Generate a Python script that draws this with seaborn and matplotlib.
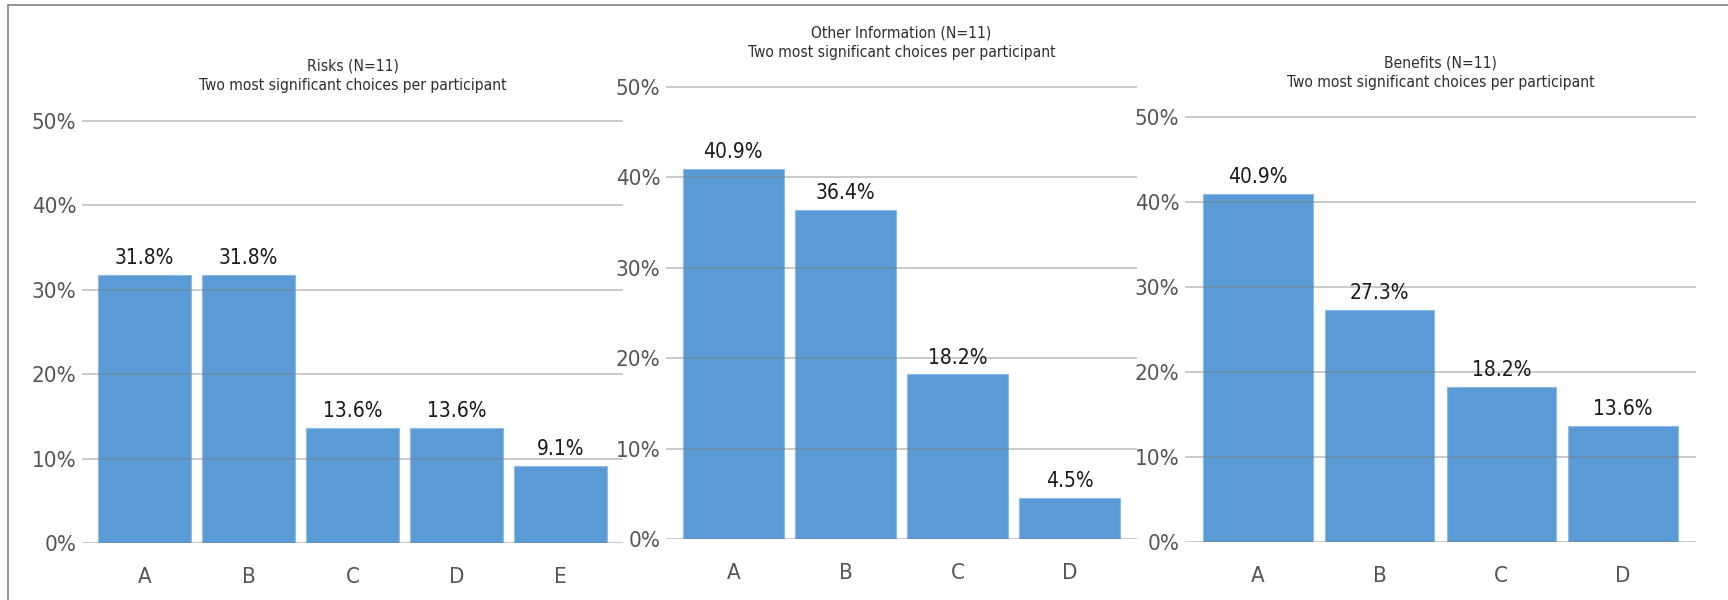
import matplotlib
matplotlib.use("Agg")
import matplotlib.pyplot as plt
from matplotlib import font_manager
from matplotlib.patches import Rectangle
from matplotlib.ticker import FuncFormatter, MultipleLocator
import seaborn as sns
import pandas as pd

# Survey results: share of the two most significant choices per participant
risk_labels = ["A", "B", "C", "D", "E"]
risk_values = [31.8, 31.8, 13.6, 13.6, 9.1]

other_labels = ["A", "B", "C", "D"]
other_values = [40.9, 36.4, 18.2, 4.5]

benefit_labels = ["A", "B", "C", "D"]
benefit_values = [40.9, 27.3, 18.2, 13.6]

panel_titles = [
    "Risks (N=11)\nTwo most significant choices per participant",
    "Other Information (N=11)\nTwo most significant choices per participant",
    "Benefits (N=11)\nTwo most significant choices per participant",
]

sns.set_theme(style="white")

# prefer a narrow sans face when one is installed
narrow = None
for f in font_manager.fontManager.ttflist:
    st = str(f.stretch).lower()
    if ("narrow" in f.name.lower() or "condensed" in f.name.lower()
            or st in ("condensed", "semi-condensed", "extra-condensed")
            or (isinstance(f.stretch, int) and f.stretch < 500)):
        if f.style == "normal":
            narrow = f
            break

if narrow is not None:
    plt.rcParams["font.family"] = [narrow.name, "DejaVu Sans"]
    plt.rcParams["font.stretch"] = narrow.stretch
    scale = 1.0
else:
    plt.rcParams["font.family"] = ["Liberation Sans", "DejaVu Sans"]
    scale = 0.86

W, H = 1728, 600
fig = plt.figure(figsize=(W / 100, H / 100), dpi=100)
fig.patch.set_facecolor("white")

BAR = "#5b9bd5"
EDGE = "#8cbbe6"

# axes boxes in pixels: left, right, y of 0%, y of 50%, title centre
layout = [
    (82, 623, 543, 121, 76),
    (666, 1137, 539, 87, 43),
    (1185, 1696, 542, 117, 73),
]
data = [
    (risk_labels, risk_values),
    (other_labels, other_values),
    (benefit_labels, benefit_values),
]

top = 51.0
for (x0, x1, y0, y50, ty), (labels, values), title in zip(layout, data, panel_titles):
    per_unit = (y0 - y50) / 50.0
    ytop = y0 - per_unit * top
    ax = fig.add_axes([x0 / W, (H - y0) / H, (x1 - x0) / W, (y0 - ytop) / H])
    df = pd.DataFrame({"choice": labels, "share": values})
    sns.barplot(data=df, x="choice", y="share", color=BAR, width=0.9,
                edgecolor=EDGE, linewidth=0.8, saturation=1, ax=ax, zorder=2)
    for p in ax.patches:
        p.set_facecolor(BAR)
    ax.set_ylim(0, top)
    ax.set_xlim(-0.6, len(labels) - 0.4)
    ax.yaxis.set_major_locator(MultipleLocator(10))
    ax.yaxis.set_major_formatter(FuncFormatter(lambda v, _: f"{v:.0f}%"))
    ax.grid(axis="y", color="#7a7a7a", alpha=0.5, linewidth=1.1, zorder=3)
    ax.set_axisbelow(False)
    for s in ax.spines.values():
        s.set_visible(False)
    ax.set_xlabel("")
    ax.set_ylabel("")
    ax.tick_params(axis="y", length=0, pad=4, labelsize=16 * scale, labelcolor="#555555")
    ax.tick_params(axis="x", length=0, pad=17, labelsize=16 * scale, labelcolor="#555555")
    ax.bar_label(ax.containers[0], labels=[f"{v:.1f}%" for v in values],
                 padding=5, fontsize=15 * scale, color="#1a1a1a")
    fig.text(((x0 + x1) / 2) / W, 1 - ty / H, title, ha="center", va="center",
             fontsize=11.2 * scale, color="#2e2e2e", linespacing=1.35)

# thin frame around the chart area
fig.add_artist(Rectangle((8 / W, -0.05), 1.05, 1 - 5 / H + 0.05,
                         transform=fig.transFigure, fill=False,
                         edgecolor="#808080", linewidth=1.2))

fig.savefig("out.png", dpi=100, facecolor="white")
